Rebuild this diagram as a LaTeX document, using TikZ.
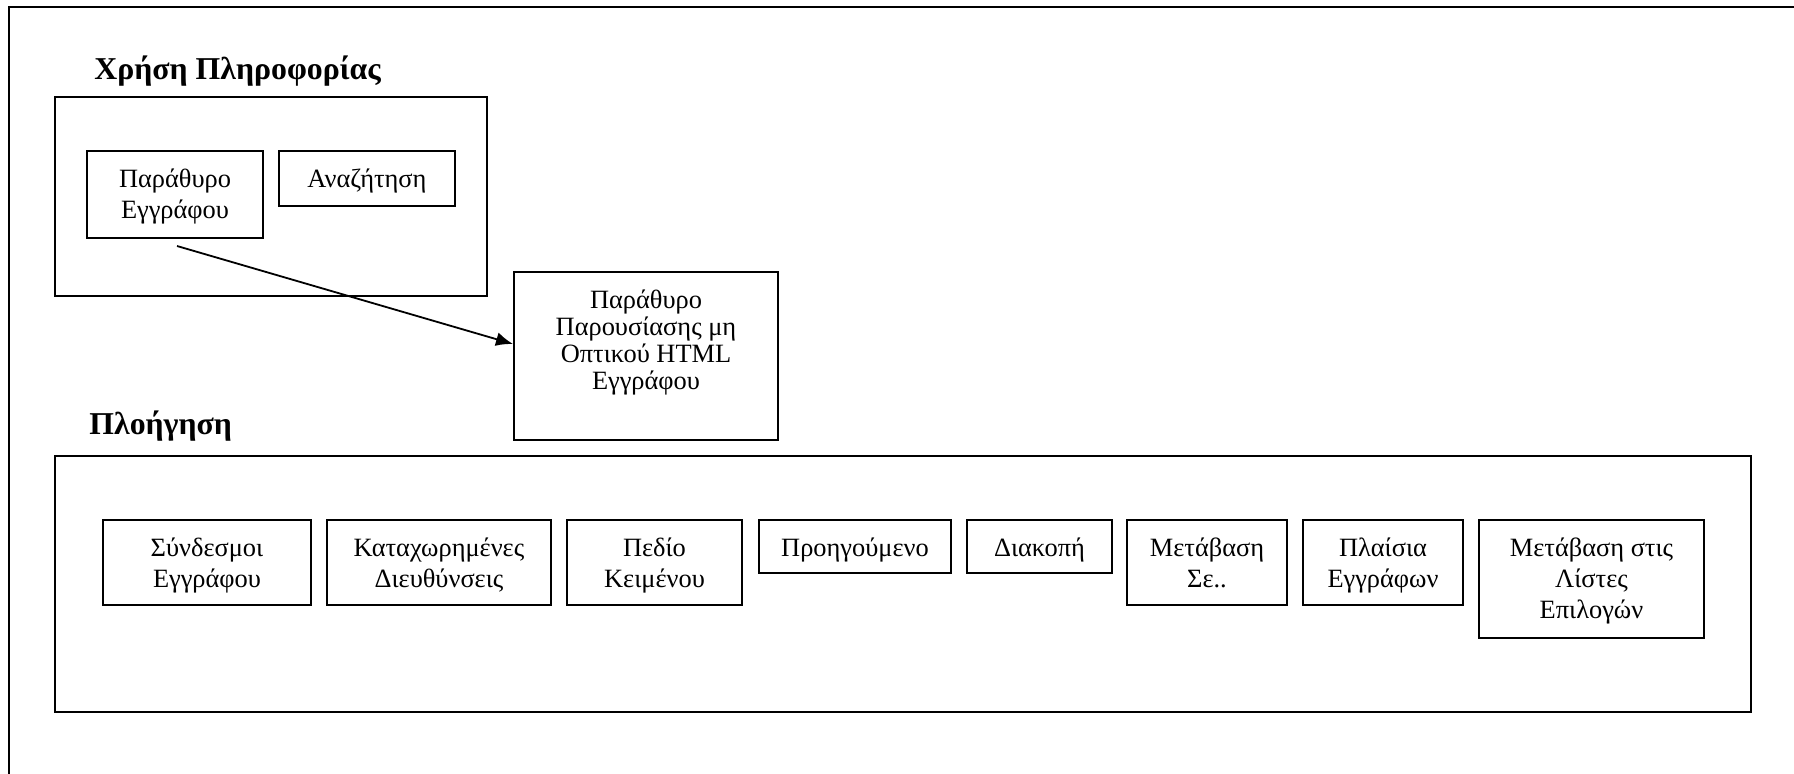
\documentclass[tikz,border=0pt]{standalone}
\usepackage{fontspec}
\setmainfont{Liberation Serif}
\usetikzlibrary{arrows.meta,calc}

% fixed-size box content: text hangs from the top edge
\newcommand{\cellbox}[4][18pt]{\parbox[c][#3][t]{#2}{\centering\rule{0pt}{#1}#4\par}}

\begin{document}
\begin{tikzpicture}[x=0.5pt,y=-0.5pt,
  frameline/.style={line width=1pt},
  group/.style={draw,line width=1pt,inner sep=0pt,anchor=north west},
  item/.style={draw,line width=1pt,inner sep=0pt,anchor=north west,
    font=\fontsize{13.2}{15.5}\selectfont},
  heading/.style={inner sep=0pt,anchor=base west,
    font=\fontsize{15.9}{19}\selectfont\bfseries},
  link/.style={line width=0.9pt,-{Latex[length=8.5pt,width=7pt]}}]
\useasboundingbox (0,0) rectangle (1794,773);
\clip (0,0) rectangle (1794,773);
\fill[white] (0,0) rectangle (1794,773);

% page frame, running past the right and bottom edges
\draw[frameline] (9,7) rectangle (1830,800);

% information use group
\node[heading] (useTitle) at (94,79) {Χρήση Πληροφορίας};
\node[group,minimum width=216pt,minimum height=99.5pt] (useGroup) at (54,96) {};
\node[item] (docwin) at (86,150) {\cellbox{88pt}{43.5pt}{Παράθυρο\\Εγγράφου}};
\node[item] (search) at (278,150) {\cellbox{88pt}{27.5pt}{Αναζήτηση}};

% presentation window
\node[item,font=\fontsize{13.2}{13.5}\selectfont] (pres) at (513,271)
  {\cellbox[18.3pt]{132pt}{84pt}{Παράθυρο\\Παρουσίασης μη\\Οπτικού HTML\\Εγγράφου}};
\coordinate (tail) at (177,246);
\draw[link] (tail) -- ($(pres.west)+(0,-12)$);

% navigation group
\node[heading] (navTitle) at (89,434) {Πλοήγηση};
\node[group,minimum width=848pt,minimum height=128pt] (navGroup) at (54,455) {};
\node[item] (links)    at (102,519)  {\cellbox{104pt}{42.5pt}{Σύνδεσμοι\\Εγγράφου}};
\node[item] (marks)    at (326,519)  {\cellbox{112pt}{42.5pt}{Καταχωρημένες\\Διευθύνσεις}};
\node[item] (field)    at (566,519)  {\cellbox{87.5pt}{42.5pt}{Πεδίο\\Κειμένου}};
\node[item] (previous) at (758,519)  {\cellbox{96pt}{26.5pt}{Προηγούμενο}};
\node[item] (halt)     at (966,519)  {\cellbox{72.5pt}{26.5pt}{Διακοπή}};
\node[item] (goto)     at (1126,519) {\cellbox{80pt}{42.5pt}{Μετάβαση\\Σε..}};
\node[item] (frames)   at (1302,519) {\cellbox{80pt}{42.5pt}{Πλαίσια\\Εγγράφων}};
\node[item] (lists)    at (1478,519) {\cellbox{112.5pt}{59pt}{Μετάβαση στις\\Λίστες\\Επιλογών}};
\end{tikzpicture}
\end{document}
